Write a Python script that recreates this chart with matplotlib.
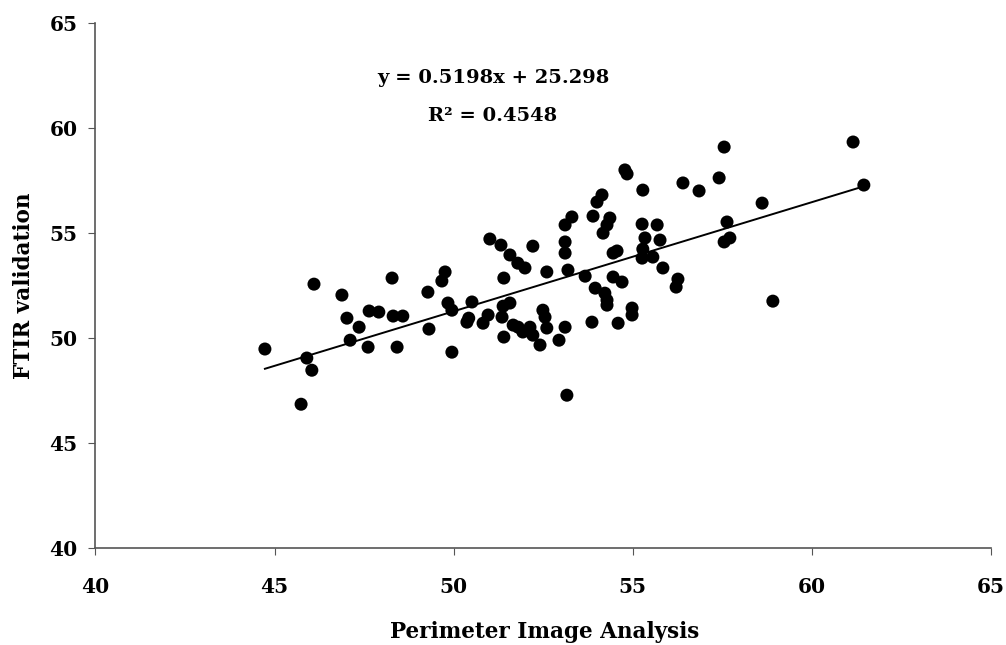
import matplotlib
matplotlib.use("Agg")
import matplotlib.pyplot as plt
import numpy as np

# Data
perimeter = [44.73, 46.10, 46.88, 47.02, 47.36, 47.11, 45.90, 46.04, 45.74, 48.28,
             47.64, 47.91, 47.61, 48.31, 48.58, 48.42, 49.76, 49.67, 49.28, 49.31,
             49.84, 49.95, 49.95, 50.51, 50.37, 50.42, 50.82, 50.96, 51.01, 51.32,
             52.21, 51.57, 51.79, 51.99, 51.40, 52.60, 53.19, 53.67, 53.11, 53.11,
             53.30, 53.11, 53.89, 54.00, 54.14, 54.36, 54.28, 54.17, 54.78, 54.84,
             55.28, 55.26, 55.68, 55.34, 55.76, 55.28, 55.26, 55.56, 55.84, 56.26,
             56.21, 54.45, 54.56, 54.45, 54.70, 53.95, 54.22, 54.28, 54.28, 54.98,
             54.98, 51.38, 51.57, 51.35, 51.66, 51.80, 51.93, 52.13, 52.21, 52.41,
             52.49, 52.55, 52.60, 51.40, 53.11, 52.94, 53.86, 54.59, 53.16, 57.55,
             61.15, 56.40, 56.85, 57.41, 58.61, 61.45, 57.63, 57.55, 57.71, 58.91]
ftir = [49.49, 52.58, 52.06, 50.96, 50.53, 49.91, 49.06, 48.48, 46.86, 52.87,
        51.30, 51.25, 49.58, 51.06, 51.06, 49.58, 53.16, 52.73, 52.20, 50.44,
        51.68, 51.34, 49.34, 51.73, 50.77, 50.96, 50.72, 51.11, 54.73, 54.44,
        54.39, 53.97, 53.58, 53.35, 52.87, 53.16, 53.25, 52.96, 54.59, 54.06,
        55.78, 55.40, 55.82, 56.49, 56.83, 55.73, 55.40, 55.01, 58.02, 57.83,
        57.06, 55.44, 55.40, 54.78, 54.68, 54.25, 53.82, 53.87, 53.35, 52.82,
        52.44, 54.06, 54.16, 52.92, 52.68, 52.39, 52.15, 51.82, 51.58, 51.44,
        51.11, 51.53, 51.68, 51.01, 50.63, 50.53, 50.30, 50.53, 50.15, 49.68,
        51.34, 51.01, 50.49, 50.06, 50.53, 49.91, 50.77, 50.72, 47.29, 59.11,
        59.35, 57.40, 57.02, 57.64, 56.44, 57.30, 55.54, 54.59, 54.78, 51.77]

slope = 0.5198
intercept = 25.298
r_squared = 0.4548

x_ticks = [40, 45, 50, 55, 60, 65]
y_ticks = [40, 45, 50, 55, 60, 65]

plt.rcParams['font.family'] = ['DejaVu Serif']
plt.rcParams['xtick.major.pad'] = 16
plt.rcParams['ytick.major.pad'] = 8
plt.rcParams['xtick.major.size'] = 5
plt.rcParams['ytick.major.size'] = 5
plt.rcParams['xtick.direction'] = 'out'
plt.rcParams['ytick.direction'] = 'out'
plt.rcParams['xtick.color'] = '#555555'
plt.rcParams['ytick.color'] = '#555555'
plt.rcParams['xtick.labelcolor'] = 'black'
plt.rcParams['ytick.labelcolor'] = 'black'

fig = plt.figure(figsize=(10.06, 6.45), dpi=100)
ax = fig.add_axes([0.0949, 0.150, 0.8902, 0.8137])

ax.scatter(perimeter, ftir, s=88, color='black', edgecolors='none', zorder=3)

xl = np.array([min(perimeter), max(perimeter)])
ax.plot(xl, slope * xl + intercept, color='black', lw=1.4, zorder=2)

ax.set_xlim(40, 65)
ax.set_ylim(40, 65)
ax.set_xticks(x_ticks)
ax.set_yticks(y_ticks)
ax.set_xticklabels([str(t) for t in x_ticks], fontsize=14.5, fontweight='bold')
ax.set_yticklabels([str(t) for t in y_ticks], fontsize=14.5, fontweight='bold')

for s in ['top', 'right']:
    ax.spines[s].set_visible(False)
for s in ['left', 'bottom']:
    ax.spines[s].set_color('#555555')
    ax.spines[s].set_linewidth(1.2)

ax.set_xlabel('Perimeter Image Analysis', fontsize=15.5, fontweight='bold', va='baseline')
ax.xaxis.set_label_coords(0.501, -0.1715)
ax.set_ylabel('FTIR validation', fontsize=15.5, fontweight='bold', va='center')
ax.yaxis.set_label_coords(-0.08, 0.5)

ax.text(0.4439, 0.8955, f'y = {slope}x + {intercept}', transform=ax.transAxes,
        ha='center', va='center', fontsize=14, fontweight='bold')
ax.text(0.4439, 0.8235, f'R\u00b2 = {r_squared}', transform=ax.transAxes,
        ha='center', va='center', fontsize=14, fontweight='bold')

fig.savefig('out.png', dpi=100)
